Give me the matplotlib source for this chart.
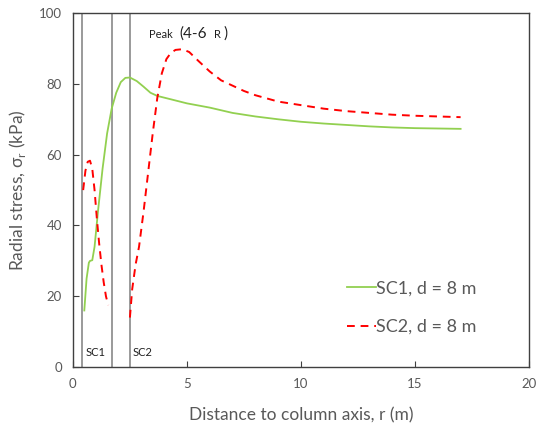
import matplotlib.pyplot as plt

plt.rcParams['font.family'] = ['Lato', 'DejaVu Sans']

# SC1 curve (green, solid)
r_sc1 = [0.5, 0.6, 0.7, 0.75, 0.85, 0.95, 1.1, 1.3, 1.5, 1.7, 1.9, 2.1, 2.3, 2.5,
         2.8, 3.1, 3.4, 3.7, 4.2, 5.0, 6.0, 7.0, 8.0, 9.0, 10.0, 11.0, 12.0,
         13.0, 14.0, 15.0, 16.0, 17.0]
s_sc1 = [16.0, 25.0, 29.5, 30.0, 30.2, 34.0, 44.0, 56.0, 66.0, 73.0, 77.5, 80.5, 81.7, 81.8,
         80.8, 79.2, 77.5, 76.6, 75.8, 74.5, 73.3, 71.8, 70.8, 70.0, 69.3, 68.8, 68.4,
         68.0, 67.7, 67.5, 67.4, 67.3]

# SC2 curve (red, dashed) - inner part and outer part
r_sc2a = [0.45, 0.55, 0.65, 0.75, 0.85, 0.95, 1.05, 1.15, 1.25, 1.35, 1.45, 1.55]
s_sc2a = [50.0, 55.5, 58.0, 58.3, 56.0, 50.0, 42.0, 35.0, 29.0, 24.0, 20.0, 17.5]
r_sc2b = [2.5, 2.6, 2.75, 2.9, 3.1, 3.3, 3.5, 3.7, 3.9, 4.1, 4.3, 4.5, 4.8, 5.1,
          5.5, 6.0, 6.5, 7.0, 7.5, 8.0, 9.0, 10.0, 11.0, 12.0, 13.0, 14.0, 15.0,
          16.0, 17.0]
s_sc2b = [14.0, 22.0, 29.0, 34.0, 44.0, 55.0, 66.0, 76.0, 83.0, 87.0, 88.8, 89.6, 89.8, 89.0,
          86.5, 83.5, 81.0, 79.5, 78.0, 76.8, 75.0, 74.0, 73.0, 72.3, 71.8, 71.3, 71.0,
          70.8, 70.6]

# vertical boundary lines
boundaries = [0.42, 1.72, 2.5]

fig = plt.figure(figsize=(5.36, 4.36), dpi=100)
ax = fig.add_axes([0.136, 0.158, 0.851, 0.812])

for b in boundaries:
    ax.axvline(b, color='#7f7f7f', lw=1.1, zorder=1)

ax.plot(r_sc1, s_sc1, color='#92d050', lw=1.3, label='SC1, d = 8 m', zorder=3)
ax.plot(r_sc2a, s_sc2a, color='#ff0000', lw=1.4, ls=(0, (4, 3)), zorder=3)
ax.plot(r_sc2b, s_sc2b, color='#ff0000', lw=1.4, ls=(0, (4, 3)),
        label='SC2, d = 8 m', zorder=3)

ax.set_xlim(0, 20)
ax.set_ylim(0, 100)
ax.set_xticks([0, 5, 10, 15, 20])
ax.set_yticks([0, 20, 40, 60, 80, 100])

txt = '#595959'
ax.tick_params(direction='in', length=4, colors='#404040', labelcolor=txt,
               labelsize=9.5, pad=8)
for s in ax.spines.values():
    s.set_color('#404040')
    s.set_linewidth(1.0)

ax.set_xlabel('Distance to column axis, r (m)', fontsize=12.5, color=txt, labelpad=12)
ax.set_ylabel(r'Radial stress, σ$_\mathregular{r}$ (kPa)', fontsize=12.5, color=txt, labelpad=8)

ax.text(0.55, 3, 'SC1', fontsize=8, color='#202020')
ax.text(2.6, 3, 'SC2', fontsize=8, color='#202020')
ax.text(3.35, 94, 'Peak', fontsize=8, color='#202020', va='center')
ax.text(4.65, 94.2, '(4-6', fontsize=11, color='#202020', va='center')
ax.text(6.2, 94, 'R', fontsize=8, color='#202020', va='center')
ax.text(6.6, 94.2, ')', fontsize=11, color='#202020', va='center')

leg = ax.legend(loc='lower right', bbox_to_anchor=(0.92, 0.045), frameon=False,
                fontsize=13, handlelength=1.6, handletextpad=0.0, labelspacing=1.25,
                labelcolor=txt)

fig.savefig('out.png', dpi=100)
